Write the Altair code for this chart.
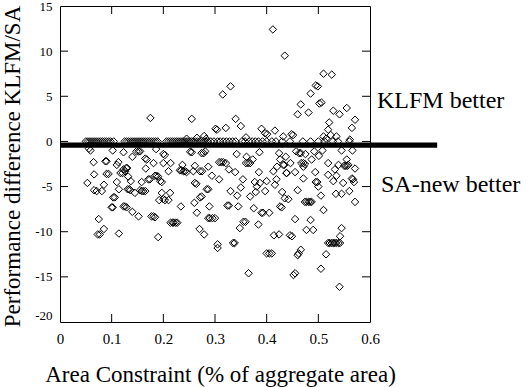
import altair as alt
import pandas as pd

# points above zero
area_pos = [0.412, 0.435, 0.510, 0.526, 0.495, 0.499, 0.315, 0.330, 0.485, 0.502,
            0.506, 0.466, 0.460, 0.481, 0.529, 0.541, 0.555, 0.571, 0.565, 0.521,
            0.519, 0.524, 0.510, 0.175, 0.255, 0.340, 0.350, 0.321, 0.301, 0.304,
            0.390, 0.397, 0.401, 0.416, 0.448, 0.451, 0.279, 0.265, 0.360, 0.432,
            0.535, 0.561, 0.515, 0.245, 0.283]
diff_pos = [12.4, 9.5, 7.5, 7.4, 6.2, 6.1, 5.2, 6.1, 5.3, 4.2,
            4.3, 4.1, 3.0, 3.2, 3.4, 3.0, 3.7, 2.4, 1.5, 2.1,
            1.3, 0.7, 0.55, 2.6, 2.5, 2.5, 1.7, 1.5, 1.4, 1.3,
            1.4, 0.9, 0.8, 1.2, 0.8, 0.7, 0.6, 0.4, 0.45, 0.55,
            0.55, 0.2, 0.3, 0.3, 0.3]

# points at zero
area_zero = [0.050, 0.054, 0.058, 0.062, 0.066, 0.070, 0.074, 0.078, 0.082, 0.086,
             0.090, 0.094, 0.098, 0.104, 0.125, 0.129, 0.133, 0.137, 0.141, 0.145,
             0.149, 0.153, 0.157, 0.161, 0.165, 0.169, 0.173, 0.177, 0.181, 0.185,
             0.189, 0.206, 0.210, 0.214, 0.218, 0.222, 0.226, 0.230, 0.234, 0.238,
             0.242, 0.246, 0.250, 0.254, 0.258, 0.262, 0.266, 0.270, 0.274, 0.278,
             0.282, 0.286, 0.292, 0.298, 0.305, 0.310, 0.316, 0.322, 0.328, 0.334,
             0.340, 0.352, 0.358, 0.366, 0.372, 0.378, 0.384, 0.392, 0.400, 0.410,
             0.418, 0.430, 0.445, 0.470, 0.485, 0.500, 0.512, 0.528, 0.538, 0.560]

# points below zero
area_neg = [0.053, 0.056, 0.059, 0.065, 0.066, 0.066, 0.071, 0.075, 0.073, 0.077,
            0.085, 0.085, 0.081, 0.088, 0.090, 0.090, 0.094, 0.100, 0.102, 0.102,
            0.103, 0.106, 0.110, 0.110, 0.114, 0.113, 0.114, 0.117, 0.121, 0.123,
            0.123, 0.126, 0.123, 0.126, 0.129, 0.128, 0.130, 0.131, 0.134, 0.136,
            0.132, 0.137, 0.140, 0.140, 0.145, 0.148, 0.152, 0.155, 0.152, 0.155,
            0.158, 0.161, 0.165, 0.158, 0.165, 0.168, 0.166, 0.171, 0.174, 0.177,
            0.181, 0.184, 0.181, 0.184, 0.187, 0.190, 0.186, 0.190, 0.192, 0.194,
            0.197, 0.197, 0.200, 0.203, 0.200, 0.203, 0.200, 0.210, 0.213, 0.214,
            0.214, 0.218, 0.220, 0.224, 0.227, 0.210, 0.232, 0.235, 0.239, 0.242,
            0.245, 0.234, 0.237, 0.252, 0.255, 0.258, 0.260, 0.261, 0.264, 0.261,
            0.265, 0.270, 0.271, 0.274, 0.271, 0.275, 0.279, 0.274, 0.278, 0.281,
            0.284, 0.287, 0.287, 0.289, 0.287, 0.290, 0.295, 0.300, 0.294, 0.305,
            0.305, 0.308, 0.308, 0.312, 0.316, 0.321, 0.324, 0.327, 0.327, 0.330,
            0.335, 0.338, 0.339, 0.342, 0.343, 0.345, 0.348, 0.350, 0.354, 0.355,
            0.359, 0.361, 0.360, 0.364, 0.368, 0.365, 0.368, 0.373, 0.375, 0.377,
            0.379, 0.381, 0.384, 0.385, 0.386, 0.387, 0.390, 0.393, 0.397, 0.400,
            0.400, 0.405, 0.410, 0.405, 0.413, 0.414, 0.416, 0.419, 0.420, 0.424,
            0.424, 0.426, 0.426, 0.429, 0.430, 0.432, 0.434, 0.435, 0.438, 0.437,
            0.439, 0.442, 0.445, 0.449, 0.446, 0.452, 0.455, 0.455, 0.455, 0.457,
            0.460, 0.460, 0.462, 0.463, 0.466, 0.466, 0.467, 0.471, 0.474, 0.471,
            0.471, 0.474, 0.477, 0.481, 0.484, 0.487, 0.475, 0.477, 0.485, 0.487,
            0.490, 0.492, 0.494, 0.495, 0.498, 0.500, 0.501, 0.505, 0.505, 0.508,
            0.510, 0.515, 0.519, 0.519, 0.519, 0.522, 0.526, 0.529, 0.532, 0.535,
            0.539, 0.542, 0.529, 0.532, 0.534, 0.535, 0.539, 0.541, 0.542, 0.545,
            0.545, 0.545, 0.548, 0.550, 0.553, 0.556, 0.558, 0.555, 0.560, 0.565,
            0.567, 0.566, 0.569, 0.571, 0.571]
diff_neg = [-4.6, -0.8, -1.0, -2.3, -3.65, -5.4, -5.5, -8.6, -10.3, -10.3,
            -9.7, -4.8, -5.5, -2.2, -2.2, -3.6, -3.6, -7.3, -7.3, -1.0,
            -6.2, -6.2, -2.6, -4.5, -10.2, -2.3, -5.3, -3.5, -3.5, -1.2,
            -3.1, -3.3, -7.2, -7.2, -7.3, -2.95, -2.95, -5.3, -5.3, -5.4,
            -3.9, -4.4, -1.7, -7.8, -5.7, -1.1, -1.1, -1.1, -8.3, -5.4,
            -5.5, -5.5, -5.5, -4.5, -1.9, -2.0, -3.0, -4.2, -4.2, -8.3,
            -8.3, -8.4, -2.4, -3.8, -3.8, -3.9, -0.85, -10.6, -6.5, -4.4,
            -4.5, -5.7, -1.4, -1.5, -6.4, -6.5, -2.4, -3.3, -5.7, -2.4,
            -9.0, -9.0, -9.0, -9.0, -9.0, -6.5, -3.2, -3.2, -3.3, -3.3,
            -3.4, -7.2, -2.6, -1.15, -1.2, -3.3, -6.8, -4.6, -4.7, -2.7,
            -7.9, -9.7, -6.2, -6.1, -3.3, -3.3, -10.3, -1.3, -1.3, -1.1,
            -5.3, -5.3, -2.8, -7.2, -8.5, -8.5, -8.5, -8.5, -3.8, -11.4,
            -11.8, -4.2, -2.3, -2.3, -2.3, -2.4, -7.1, -7.1, -3.1, -5.5,
            -11.25, -11.25, -3.4, -1.4, -6.0, -7.2, -9.6, -5.1, -4.2, -8.9,
            -8.9, -1.7, -2.4, -2.4, -2.4, -14.6, -6.1, -2.0, -7.4, -4.5,
            -5.6, -5.0, -9.2, -3.4, -1.2, -4.6, -7.9, -7.9, -5.5, -4.4,
            -12.4, -12.4, -12.4, -7.9, -3.3, -10.4, -4.8, -4.2, -2.8, -10.3,
            -1.3, -2.0, -7.2, -7.3, -5.6, -2.6, -2.6, -6.3, -3.5, -1.7,
            -3.5, -6.4, -10.4, -10.5, -2.4, -14.8, -8.6, -3.4, -14.6, -1.1,
            -5.4, -12.6, -12.4, -1.3, -1.3, -12.0, -2.4, -2.4, -2.5, -4.1,
            -2.8, -6.7, -6.7, -6.7, -6.7, -6.7, -1.4, -9.8, -8.7, -2.0,
            -9.8, -1.1, -3.4, -4.5, -4.5, -5.0, -1.6, -14.1, -6.0, -1.0,
            -7.6, -12.5, -2.4, -3.7, -11.25, -11.25, -11.25, -11.25, -11.25, -11.25,
            -11.25, -11.25, -4.4, -3.1, -5.8, -3.8, -2.6, -16.1, -10.5, -9.6,
            -5.8, -1.0, -4.6, -2.7, -2.7, -2.7, -2.6, -2.0, -5.5, -4.1,
            -4.2, -1.0, -4.5, -3.0, -6.7]

x_ticks = [0.1, 0.2, 0.3, 0.4, 0.5]
y_ticks = [-15, -10, -5, 0, 5, 10]
x_labels = [0, 0.1, 0.2, 0.3, 0.4, 0.5, 0.6]
y_labels = [-20, -15, -10, -5, 0, 5, 10, 15]
notes = ["KLFM better", "SA-new better"]
note_x = [0.6135, 0.6213]
note_y = [3.7, -5.65]
split_level = [-0.4]

X0, X1 = 0.0, 0.6
Y0, Y1 = -20.0, 15.0
W, H = 310, 316
FONT = "Liberation Serif"

pts = pd.DataFrame({
    "area": area_pos + area_zero + area_neg,
    "diff": diff_pos + [0.0] * len(area_zero) + diff_neg,
})

xs = alt.Scale(domain=[X0, X1], nice=False, zero=False)
ys = alt.Scale(domain=[Y0, Y1], nice=False, zero=False)

xaxis = alt.Axis(
    values=x_labels, format="~g", labelFlush=False, ticks=False, domain=False, grid=False,
    labelFont=FONT, labelFontSize=15, labelColor="black", labelPadding=9,
    title="Area Constraint (% of aggregate area)", titleFont=FONT, titleFontSize=23,
    titleFontWeight="normal", titleColor="black", titleX=W / 2 + 5, titleY=59,
    titleBaseline="alphabetic", titleAlign="center",
)
yaxis = alt.Axis(
    values=y_labels, labelExpr="'' + datum.value", labelFlush=False, ticks=False,
    domain=False, grid=False, labelFont=FONT, labelFontSize=13, labelColor="black",
    labelPadding=8,
    labelBaseline={"condition": {"test": "datum.value == -20", "value": "bottom"}, "value": "middle"},
    title="Performance difference KLFM/SA", titleFont=FONT, titleFontSize=23,
    titleFontWeight="normal", titleColor="black", titleX=-48, titleY=H / 2 + 2,
    titleAngle=-90, titleBaseline="middle", titleAlign="center",
)

points = alt.Chart(pts).mark_point(
    shape="diamond", filled=False, color="black", strokeWidth=1, size=56, opacity=1
).encode(
    x=alt.X("area:Q", scale=xs, axis=xaxis),
    y=alt.Y("diff:Q", scale=ys, axis=yaxis),
)

tdx = (X1 - X0) * 8 / W
tdy = (Y1 - Y0) * 8 / H
vt = pd.DataFrame({
    "x": [X0] * len(y_ticks) + [X1 - tdx] * len(y_ticks),
    "x2": [X0 + tdx] * len(y_ticks) + [X1] * len(y_ticks),
    "y": y_ticks + y_ticks,
})
ht = pd.DataFrame({
    "x": x_ticks + x_ticks,
    "y": [Y0] * len(x_ticks) + [Y1 - tdy] * len(x_ticks),
    "y2": [Y0 + tdy] * len(x_ticks) + [Y1] * len(x_ticks),
})
vticks = alt.Chart(vt).mark_rule(color="black", strokeWidth=1).encode(
    x=alt.X("x:Q", scale=xs), x2="x2:Q", y=alt.Y("y:Q", scale=ys))
hticks = alt.Chart(ht).mark_rule(color="black", strokeWidth=1).encode(
    x=alt.X("x:Q", scale=xs), y=alt.Y("y:Q", scale=ys), y2="y2:Q")

line_df = pd.DataFrame({"x": [X0], "x2": [0.73], "y": split_level})
thick = alt.Chart(line_df).mark_rule(color="black", strokeWidth=5.3, clip=False).encode(
    x=alt.X("x:Q", scale=xs), x2="x2:Q", y=alt.Y("y:Q", scale=ys))

notes_df = pd.DataFrame({"t": notes, "x": note_x, "y": note_y})
text = alt.Chart(notes_df).mark_text(
    font=FONT, fontSize=24, color="black", align="left", baseline="alphabetic"
).encode(x=alt.X("x:Q", scale=xs), y=alt.Y("y:Q", scale=ys), text="t:N")

chart = alt.layer(points, thick, vticks, hticks, text).properties(
    width=W, height=H,
    autosize=alt.AutoSizeParams(type="none"),
    padding={"left": 60, "top": 6, "right": 162, "bottom": 65},
    background="white",
).configure_view(stroke="black", strokeWidth=1)

chart.save("out.html", embed_options={"renderer": "svg", "actions": False})
